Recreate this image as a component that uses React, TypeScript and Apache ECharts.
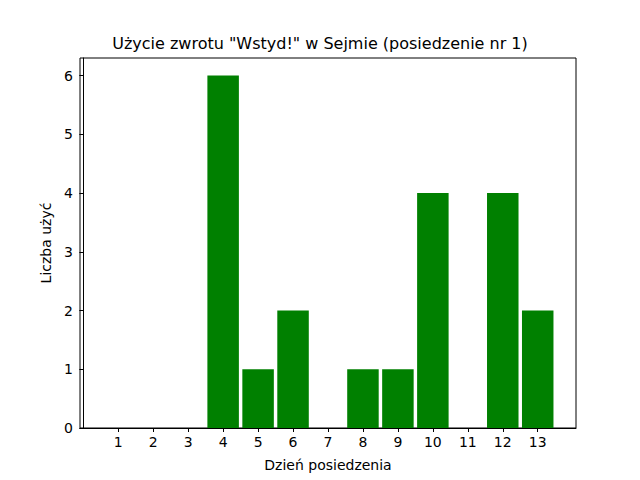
import React, { useEffect, useRef } from "react";
import * as echarts from "echarts";

const days = [1, 2, 3, 4, 5, 6, 7, 8, 9, 10, 11, 12, 13];
const counts = [0, 0, 0, 6, 1, 2, 0, 1, 1, 4, 0, 4, 2];
const yTicks = [0, 1, 2, 3, 4, 5, 6];

export default function App() {
  const ref = useRef<HTMLDivElement>(null);
  useEffect(() => {
    const chart = echarts.init(ref.current!, null, { renderer: "svg" });
    const font = "DejaVu Sans";
    chart.setOption({
      animation: false,
      backgroundColor: "#fff",
      title: {
        text: 'Użycie zwrotu "Wstyd!" w Sejmie (posiedzenie nr 1)',
        left: "center",
        top: 30,
        textStyle: { fontFamily: font, fontSize: 16, fontWeight: "normal", color: "#000" },
      },
      grid: {
        left: 80,
        top: 58,
        width: 496,
        height: 370,
        show: true,
        borderColor: "#000",
        borderWidth: 1,
        backgroundColor: "transparent",
      },
      xAxis: {
        type: "value",
        min: -0.095,
        max: 14.095,
        name: "Dzień posiedzenia",
        nameLocation: "middle",
        nameGap: 30,
        nameTextStyle: { fontFamily: font, fontSize: 14, color: "#000" },
        axisLine: { show: true, lineStyle: { color: "#000", width: 1 } },
        axisTick: { show: true, length: 4, lineStyle: { color: "#000" }, customValues: days },
        axisLabel: { fontFamily: font, fontSize: 14, color: "#000", margin: 7, customValues: days },
        splitLine: { show: false },
      },
      yAxis: {
        type: "value",
        min: 0,
        max: 6.3,
        name: "Liczba użyć",
        nameLocation: "middle",
        nameGap: 26,
        nameTextStyle: { fontFamily: font, fontSize: 14, color: "#000" },
        axisLine: { show: true, lineStyle: { color: "#000", width: 1 } },
        axisTick: { show: true, length: 4, lineStyle: { color: "#000" }, customValues: yTicks },
        axisLabel: { fontFamily: font, fontSize: 14, color: "#000", margin: 7, customValues: yTicks },
        splitLine: { show: false },
      },
      series: [
        {
          type: "bar",
          data: days.map((d, i) => [d, counts[i]]),
          barWidth: 31.5,
          itemStyle: { color: "#008000" },
        },
      ],
    });
    return () => chart.dispose();
  }, []);
  return <div ref={ref} style={{ width: 640, height: 480, position: "absolute", left: 0, top: 0 }} />;
}
